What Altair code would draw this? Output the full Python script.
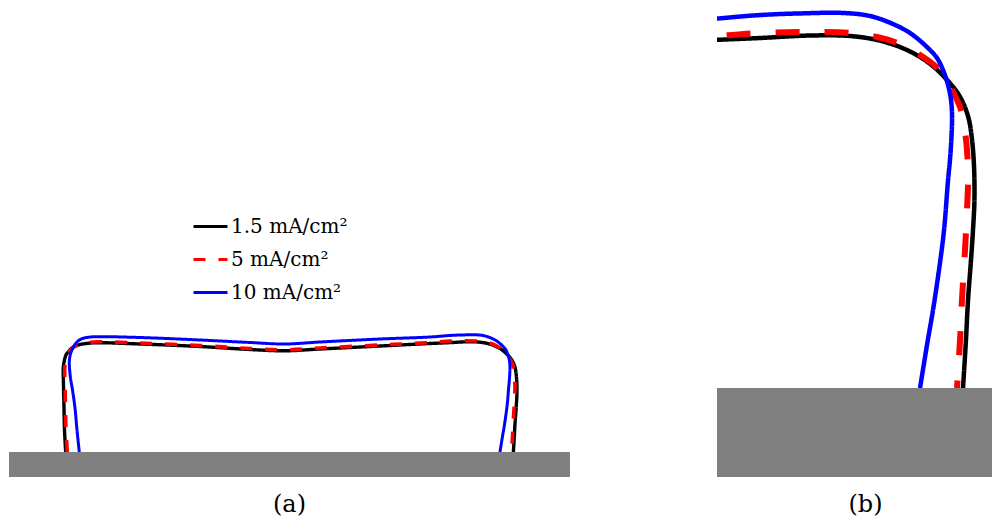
import altair as alt
import pandas as pd

# Film profiles grown at three current densities (positions in µm, substrate top at y = 0)
SERIES = ["1.5 mA/cm²", "5 mA/cm²", "10 mA/cm²"]
COLORS = ["#000000", "#ff0000", "#0000ff"]

x_15 = [113.4, 111, 110, 109, 108.6, 111, 114, 120, 126, 134, 142, 158, 176, 262, 382,
        482, 552, 622, 742, 842, 881.9, 913.1, 938.1, 955, 969.4, 981.9, 991.3, 998.8,
        1005, 1009.4, 1012.5, 1014.4, 1015.6, 1015.9, 1015, 1013.75, 1011.9, 1010.6, 1008.75]
y_15 = [0, 44, 88, 134, 168, 184, 194, 202, 208, 212, 215, 217.4, 218.6, 216, 211,
        205, 202.4, 206, 212, 217, 218.75, 220.3, 220, 217.5, 213.1, 206.9, 200, 192.5,
        185, 176.9, 167.5, 155, 139.4, 117.5, 98.75, 80, 55, 30, 0]

x_5 = [116.6, 114, 113, 112, 111.6, 114, 117, 122, 128, 136, 144, 158, 176, 262, 382,
       482, 552, 622, 742, 842, 881.9, 913.1, 938.1, 955, 969.4, 981.9, 991.3, 997.5,
       1002.5, 1006.9, 1009.4, 1011.25, 1011.9, 1011.25, 1010, 1008.1, 1006.9, 1005]
y_5 = [0, 44, 88, 134, 168, 184, 194, 203, 209, 213.4, 216.6, 219, 220.4, 218, 213,
       207, 204.4, 208, 214, 219, 221.9, 222.5, 221.9, 219.4, 215, 208.1, 201.25, 193.75,
       185, 175.6, 164.4, 148.75, 130, 111.25, 86.25, 55, 30, 0]

x_10 = [140.6, 136, 132, 127, 123, 121, 120.6, 122, 125, 130, 137, 146, 158, 176, 262,
        382, 482, 552, 622, 742, 842, 881.9, 906.9, 933.75, 950.6, 965, 975.6, 986.25,
        992.5, 996.25, 999.4, 1001.25, 1001.9, 1001.6, 1000.6, 999.4, 996.9, 993.75,
        990, 986.25, 981.9]
y_10 = [0, 44, 88, 124, 148, 168, 180, 192, 202, 212, 221, 226.6, 229.4, 230.6, 229,
        224, 219, 216, 220, 226, 230, 233.1, 234.1, 234.4, 232.5, 227.5, 221.9, 213.1,
        206.25, 198.75, 189.4, 180, 170.6, 158.1, 142.5, 130, 98.75, 73.75,
        48.75, 26.9, 0]

# Substrate block
sub_x = [0, 1122]
sub_y = [-60, 0]

rows = []
for name, xs, ys in zip(SERIES, [x_15, x_5, x_10], [y_15, y_5, y_10]):
    for i, (xv, yv) in enumerate(zip(xs, ys)):
        rows.append({"current": name, "i": i, "x": xv, "y": yv})
profiles = pd.DataFrame(rows)
substrate = pd.DataFrame({"x0": [sub_x[0]], "x1": [sub_x[1]], "y0": [sub_y[0]], "y1": [sub_y[1]]})

SERIF = "DejaVu Serif"

legend = alt.Legend(
    title=None, orient="none", legendX=183, legendY=208, padding=0,
    symbolType="stroke", symbolSize=1156, symbolStrokeWidth=3,
    labelFont=SERIF, labelFontSize=20, labelColor="black", labelOffset=2,
    rowPadding=4,
)


def panel(xdom, ydom, width, widths, dashes, caption, dx, with_legend):
    xs = alt.Scale(domain=xdom, nice=False, zero=False)
    ys = alt.Scale(domain=ydom, nice=False, zero=False)
    ground = alt.Chart(substrate).mark_rect(color="#808080", clip=True).encode(
        x=alt.X("x0:Q", scale=xs, axis=None), x2="x1:Q",
        y=alt.Y("y0:Q", scale=ys, axis=None), y2="y1:Q",
    )
    layers = []
    for name, col, w, d in zip(SERIES, COLORS, widths, dashes):
        base = alt.Chart(profiles).transform_filter(alt.datum.current == name)
        enc = dict(
            x=alt.X("x:Q", scale=xs, axis=None),
            y=alt.Y("y:Q", scale=ys, axis=None),
            order="i:Q",
        )
        if with_legend:
            line = base.mark_line(clip=True, interpolate="catmull-rom", strokeWidth=w,
                                  strokeCap="butt", strokeJoin="round").encode(
                color=alt.Color("current:N", scale=alt.Scale(domain=SERIES, range=COLORS), legend=legend),
                strokeDash=alt.StrokeDash("current:N", scale=alt.Scale(domain=SERIES, range=dashes), legend=legend),
                **enc,
            )
        else:
            line = base.mark_line(clip=True, interpolate="catmull-rom", strokeWidth=w,
                                  strokeCap="butt", strokeJoin="round", color=col,
                                  strokeDash=d).encode(**enc)
        layers.append(line)
    # black first, then red dashes, then blue on top; substrate covers line ends
    ordered = [layers[0], layers[1], layers[2], ground]
    return alt.layer(*ordered).properties(
        width=width, height=477,
        title=alt.TitleParams(caption, orient="bottom", anchor="middle", font=SERIF,
                              fontSize=24, fontWeight="normal", color="black",
                              offset=16, dx=dx),
    )


left = panel([0, 1122], [-50, 904], 561,
             [3.4, 3.6, 3.0], [[1, 0], [12, 13], [1, 0]], "(a)", 0, True)
right = panel([855, 1026.875], [-55.625, 242.5], 275,
              [4.5, 6.0, 4.5], [[1, 0], [24, 25], [1, 0]], "(b)", 11, False)

chart = alt.hconcat(left, right, spacing=147).properties(
    padding={"left": 9, "top": 0, "right": 0, "bottom": 0},
    background="white",
).configure_view(stroke=None)

chart.save("out.html", embed_options={"renderer": "svg", "actions": False})
